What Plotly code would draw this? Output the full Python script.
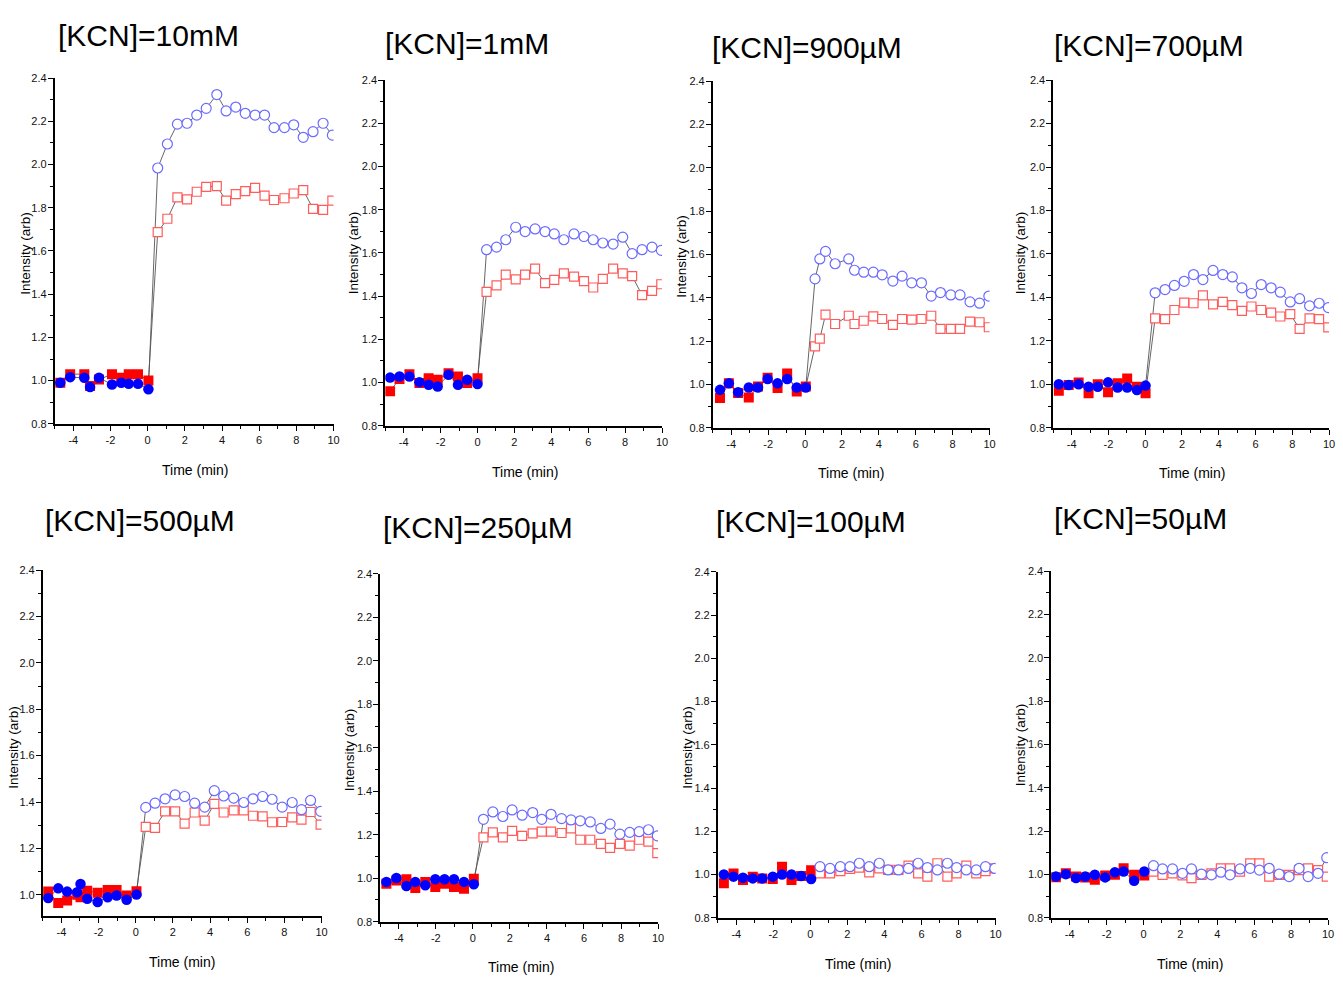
import plotly.graph_objects as go

W, H = 1343, 981

TITLES = ["[KCN]=10mM", "[KCN]=1mM", "[KCN]=900µM", "[KCN]=700µM",
          "[KCN]=500µM", "[KCN]=250µM", "[KCN]=100µM", "[KCN]=50µM"]
X_TITLE = "Time (min)"
Y_TITLE = "Intensity (arb)"
X_TICKS = [-4, -2, 0, 2, 4, 6, 8, 10]
X_TICK_LABELS = ["-4", "-2", "0", "2", "4", "6", "8", "10"]
Y_MIN = [0.8, 0.8, 0.8, 0.8, 0.91, 0.8, 0.8, 0.8]

# ---- [KCN]=10mM
T_PRE_10MM = [-4.70, -4.17, -3.41, -3.10, -2.62, -1.92, -1.42, -1.02, -0.52, 0.04]
BLUE_PRE_10MM = [0.99, 1.016, 1.013, 0.97, 1.013, 0.982, 0.99, 0.985, 0.985, 0.96]
RED_PRE_10MM = [0.99, 1.03, 1.03, 0.975, 1.005, 1.03, 1.013, 1.03, 1.03, 1.0]
T_POST_10MM = [0.54, 1.06, 1.60, 2.12, 2.64, 3.15, 3.72, 4.22, 4.74, 5.25, 5.78, 6.29, 6.80, 7.36, 7.86, 8.37, 8.90, 9.44, 9.94]
BLUE_POST_10MM = [1.984, 2.095, 2.187, 2.191, 2.229, 2.26, 2.324, 2.248, 2.266, 2.237, 2.229, 2.229, 2.171, 2.171, 2.184, 2.126, 2.152, 2.191, 2.136]
RED_POST_10MM = [1.687, 1.749, 1.848, 1.839, 1.874, 1.897, 1.9, 1.833, 1.863, 1.877, 1.892, 1.856, 1.836, 1.844, 1.866, 1.882, 1.795, 1.79, 1.833]

# ---- [KCN]=1mM
T_PRE_1MM = [-4.74, -4.23, -3.69, -3.15, -2.65, -2.16, -1.57, -1.06, -0.56, 0.0]
BLUE_PRE_1MM = [1.023, 1.028, 1.028, 1.002, 0.99, 0.982, 1.036, 0.99, 1.013, 0.993]
RED_PRE_1MM = [0.96, 1.017, 1.039, 0.998, 1.02, 1.013, 1.043, 1.028, 0.998, 1.02]
T_POST_1MM = [0.49, 1.03, 1.53, 2.07, 2.58, 3.12, 3.66, 4.16, 4.68, 5.23, 5.77, 6.27, 6.79, 7.35, 7.87, 8.38, 8.92, 9.46, 9.96]
BLUE_POST_1MM = [1.615, 1.627, 1.661, 1.719, 1.699, 1.711, 1.699, 1.688, 1.661, 1.688, 1.676, 1.661, 1.646, 1.641, 1.673, 1.597, 1.615, 1.627, 1.612]
RED_POST_1MM = [1.42, 1.45, 1.5, 1.478, 1.5, 1.527, 1.46, 1.475, 1.505, 1.49, 1.47, 1.44, 1.48, 1.527, 1.505, 1.493, 1.405, 1.424, 1.455]

# ---- [KCN]=900uM
T_PRE_900 = [-4.61, -4.13, -3.63, -3.05, -2.55, -2.03, -1.49, -0.97, -0.45, 0.04]
BLUE_PRE_900 = [0.975, 1.005, 0.964, 0.986, 0.986, 1.025, 1.005, 1.025, 0.986, 0.986]
RED_PRE_900 = [0.937, 1.005, 0.96, 0.94, 0.99, 1.031, 0.983, 1.051, 0.967, 0.99]
T_POST_900 = [0.54, 0.80, 1.11, 1.63, 2.37, 2.68, 3.18, 3.70, 4.18, 4.76, 5.26, 5.78, 6.31, 6.84, 7.34, 7.90, 8.40, 8.94, 9.46, 9.96]
BLUE_POST_900 = [1.487, 1.579, 1.614, 1.557, 1.579, 1.527, 1.518, 1.518, 1.506, 1.477, 1.5, 1.469, 1.469, 1.408, 1.424, 1.413, 1.413, 1.381, 1.375, 1.408]
RED_POST_900 = [1.176, 1.211, 1.322, 1.279, 1.317, 1.279, 1.294, 1.314, 1.302, 1.275, 1.302, 1.299, 1.302, 1.317, 1.256, 1.256, 1.256, 1.29, 1.287, 1.264]

# ---- [KCN]=700uM
T_PRE_700 = [-4.70, -4.16, -3.62, -3.08, -2.58, -2.02, -1.50, -0.98, -0.45, 0.02]
BLUE_PRE_700 = [1.0, 0.997, 1.0, 0.989, 0.989, 1.009, 0.985, 0.985, 0.974, 0.994]
RED_PRE_700 = [0.97, 0.997, 1.008, 0.959, 1.0, 0.964, 1.005, 1.027, 0.989, 0.959]
T_POST_700 = [0.54, 1.08, 1.59, 2.12, 2.63, 3.14, 3.69, 4.22, 4.74, 5.26, 5.78, 6.31, 6.85, 7.35, 7.89, 8.40, 8.94, 9.46, 9.96]
BLUE_POST_700 = [1.421, 1.436, 1.455, 1.474, 1.505, 1.482, 1.524, 1.505, 1.494, 1.444, 1.418, 1.459, 1.444, 1.424, 1.379, 1.394, 1.361, 1.373, 1.353]
RED_POST_700 = [1.303, 1.3, 1.342, 1.376, 1.373, 1.409, 1.368, 1.379, 1.364, 1.338, 1.358, 1.342, 1.33, 1.312, 1.323, 1.255, 1.303, 1.3, 1.262]

# ---- [KCN]=500uM
T_PRE_500 = [-4.71, -4.17, -3.69, -3.15, -2.97, -2.61, -2.05, -1.51, -1.03, -0.49, 0.04]
BLUE_PRE_500 = [0.986, 1.028, 1.014, 1.011, 1.047, 0.983, 0.969, 0.99, 0.997, 0.979, 1.001]
RED_PRE_500 = [1.014, 0.965, 0.976, 1.0, 0.99, 1.018, 1.009, 1.021, 1.021, 0.997, 1.016]
T_POST_500 = [0.54, 1.04, 1.58, 2.12, 2.63, 3.17, 3.71, 4.23, 4.73, 5.27, 5.81, 6.31, 6.83, 7.34, 7.88, 8.42, 8.92, 9.41, 9.95]
BLUE_POST_500 = [1.377, 1.395, 1.414, 1.431, 1.424, 1.395, 1.378, 1.449, 1.426, 1.417, 1.398, 1.414, 1.424, 1.412, 1.378, 1.398, 1.367, 1.407, 1.36]
RED_POST_500 = [1.293, 1.289, 1.36, 1.36, 1.307, 1.355, 1.32, 1.392, 1.355, 1.364, 1.364, 1.341, 1.338, 1.313, 1.314, 1.334, 1.324, 1.357, 1.303]

# ---- [KCN]=250uM
T_PRE_250 = [-4.67, -4.13, -3.59, -3.11, -2.57, -2.03, -1.53, -1.02, -0.48, 0.05]
BLUE_PRE_250 = [0.983, 1.001, 0.964, 0.983, 0.967, 0.995, 0.995, 0.995, 0.983, 0.972]
RED_PRE_250 = [0.975, 0.99, 0.995, 0.955, 0.983, 0.96, 0.975, 0.96, 0.952, 0.998]
T_POST_250 = [0.57, 1.08, 1.62, 2.12, 2.66, 3.23, 3.72, 4.22, 4.79, 5.30, 5.80, 6.34, 6.91, 7.41, 7.94, 8.47, 8.98, 9.48, 9.96]
BLUE_POST_250 = [1.271, 1.305, 1.284, 1.314, 1.29, 1.302, 1.271, 1.294, 1.274, 1.268, 1.264, 1.259, 1.229, 1.249, 1.203, 1.211, 1.214, 1.223, 1.195]
RED_POST_250 = [1.188, 1.211, 1.188, 1.218, 1.195, 1.206, 1.214, 1.214, 1.208, 1.229, 1.177, 1.177, 1.158, 1.14, 1.158, 1.15, 1.177, 1.168, 1.115]

# ---- [KCN]=100uM
T_PRE_100 = [-4.67, -4.15, -3.64, -3.11, -2.60, -2.03, -1.53, -1.02, -0.50, 0.04]
BLUE_PRE_100 = [1.0, 0.99, 0.985, 0.982, 0.982, 0.99, 1.0, 1.0, 0.993, 0.979]
RED_PRE_100 = [0.959, 1.005, 0.974, 0.99, 0.982, 0.979, 1.036, 0.974, 0.993, 1.02]
T_POST_100 = [0.52, 1.06, 1.62, 2.14, 2.64, 3.18, 3.72, 4.20, 4.76, 5.30, 5.82, 6.32, 6.86, 7.40, 7.90, 8.42, 8.96, 9.46, 9.96]
BLUE_POST_100 = [1.036, 1.028, 1.036, 1.036, 1.052, 1.036, 1.052, 1.021, 1.021, 1.028, 1.052, 1.032, 1.021, 1.052, 1.032, 1.021, 1.021, 1.036, 1.028]
RED_POST_100 = [1.005, 1.005, 1.016, 1.026, 1.032, 1.01, 1.028, 1.021, 1.021, 1.041, 1.005, 0.99, 1.052, 0.99, 1.005, 1.041, 1.005, 1.016, 1.028]

# ---- [KCN]=50uM
T_PRE_50 = [-4.75, -4.21, -3.66, -3.16, -2.64, -2.08, -1.55, -1.08, -0.51, 0.04]
BLUE_PRE_50 = [0.99, 1.001, 0.983, 0.99, 0.998, 0.986, 1.01, 1.013, 0.97, 1.013]
RED_PRE_50 = [0.987, 1.005, 0.99, 0.986, 0.975, 0.995, 0.998, 1.028, 0.998, 0.995]
T_POST_50 = [0.54, 1.03, 1.57, 2.11, 2.60, 3.14, 3.68, 4.19, 4.69, 5.23, 5.78, 6.28, 6.81, 7.35, 7.89, 8.43, 8.92, 9.46, 9.93]
BLUE_POST_50 = [1.04, 1.025, 1.025, 1.005, 1.025, 1.001, 0.998, 1.01, 0.998, 1.025, 1.028, 1.02, 1.028, 1.001, 0.99, 1.028, 0.99, 1.005, 1.077]
RED_POST_50 = [1.013, 0.998, 1.005, 0.995, 0.983, 0.998, 1.005, 1.028, 1.028, 1.013, 1.051, 1.051, 0.99, 0.998, 0.998, 1.02, 1.028, 1.02, 0.99]

PANELS = [
    (T_PRE_10MM, T_POST_10MM, BLUE_PRE_10MM, BLUE_POST_10MM, RED_PRE_10MM, RED_POST_10MM),
    (T_PRE_1MM, T_POST_1MM, BLUE_PRE_1MM, BLUE_POST_1MM, RED_PRE_1MM, RED_POST_1MM),
    (T_PRE_900, T_POST_900, BLUE_PRE_900, BLUE_POST_900, RED_PRE_900, RED_POST_900),
    (T_PRE_700, T_POST_700, BLUE_PRE_700, BLUE_POST_700, RED_PRE_700, RED_POST_700),
    (T_PRE_500, T_POST_500, BLUE_PRE_500, BLUE_POST_500, RED_PRE_500, RED_POST_500),
    (T_PRE_250, T_POST_250, BLUE_PRE_250, BLUE_POST_250, RED_PRE_250, RED_POST_250),
    (T_PRE_100, T_POST_100, BLUE_PRE_100, BLUE_POST_100, RED_PRE_100, RED_POST_100),
    (T_PRE_50, T_POST_50, BLUE_PRE_50, BLUE_POST_50, RED_PRE_50, RED_POST_50),
]

# ---- layout geometry (pixels)
PLOT_BOX = [(55, 335, 73, 423), (387, 665, 75, 425), (716, 994, 76, 427), (1058, 1335, 75, 427),
            (43, 323, 571, 921), (382, 661, 575, 927), (721, 1000, 573, 923), (1056, 1334, 572, 923)]
TITLE_POS = [(56, 30), (385, 38), (713, 42), (1057, 40), (43, 521), (383, 528), (717, 522), (1057, 519)]
XT_POS = [(196, 470), (527, 472), (855, 473), (1197, 473), (183, 968), (523, 973), (862, 970), (1195, 970)]
YT_POS = [(26, 250), (356, 250), (685, 253), (1026, 250), (14, 750), (351, 753), (691, 750), (1025, 748)]

SANS = "Liberation Sans, Arial, sans-serif"

LINE_C = "#555555"
BLUE = "#0000ff"
BLUE_OPEN = "#6b6bff"
RED = "#ff0000"
RED_OPEN = "#ff5c5c"

fig = go.Figure()
layout = dict(width=W, height=H, margin=dict(l=0, r=0, t=0, b=0),
              paper_bgcolor="white", plot_bgcolor="white", showlegend=False)
annotations = []


def px(x):
    return x / W


def py(y):
    return 1 - y / H


for i, (tpre, tpost, bpre, bpost, rpre, rpost) in enumerate(PANELS):
    n = i + 1
    xa, ya = f"x{n}", f"y{n}"
    # connecting lines
    for pre, post in ((rpre, rpost), (bpre, bpost)):
        fig.add_trace(go.Scatter(x=tpre + tpost, y=pre + post, mode="lines",
                                 line=dict(color=LINE_C, width=0.9),
                                 xaxis=xa, yaxis=ya, hoverinfo="skip"))
    # red squares
    fig.add_trace(go.Scatter(x=tpre, y=rpre, mode="markers", xaxis=xa, yaxis=ya,
                             marker=dict(symbol="square", size=10, color=RED, line=dict(width=0))))
    fig.add_trace(go.Scatter(x=tpost, y=rpost, mode="markers", xaxis=xa, yaxis=ya,
                             marker=dict(symbol="square", size=9, color="white",
                                         line=dict(width=1.2, color=RED_OPEN))))
    # blue circles
    fig.add_trace(go.Scatter(x=tpre, y=bpre, mode="markers", xaxis=xa, yaxis=ya,
                             marker=dict(symbol="circle", size=10.5, color=BLUE, line=dict(width=0))))
    fig.add_trace(go.Scatter(x=tpost, y=bpost, mode="markers", xaxis=xa, yaxis=ya,
                             marker=dict(symbol="circle", size=10, color="white",
                                         line=dict(width=1.2, color=BLUE_OPEN))))

    x0, x1, y0, y1 = PLOT_BOX[i]
    ymin = Y_MIN[i]
    k = "" if n == 1 else str(n)
    layout[f"xaxis{k}"] = dict(
        domain=[px(x0), px(x1)], range=[-5, 10], anchor=ya,
        tickmode="array", tickvals=X_TICKS, ticktext=X_TICK_LABELS,
        ticks="outside", ticklen=5, tickwidth=1.3, tickcolor="black",
        minor=dict(ticks="outside", ticklen=3, tickwidth=1.2, dtick=1, tick0=-5, tickcolor="black"),
        showline=True, linewidth=1.8, linecolor="black", showgrid=False, zeroline=False,
        tickfont=dict(family=SANS, size=11, color="#111111"), fixedrange=True)
    layout[f"yaxis{k}"] = dict(
        domain=[py(y1), py(y0)], range=[ymin, 2.4], anchor=xa,
        tick0=0.8, dtick=0.2, tickformat=".1f", ticks="outside", ticklen=5, tickwidth=1.3,
        tickcolor="black", ticklabelstandoff=-1,
        minor=dict(ticks="outside", ticklen=3, tickwidth=1.2, dtick=0.1, tick0=0.8, tickcolor="black"),
        showline=True, linewidth=1.8, linecolor="black", showgrid=False, zeroline=False,
        tickfont=dict(family=SANS, size=11, color="#111111"), fixedrange=True)
    # top and right frame axes (inside ticks, no labels)
    layout[f"xaxis{n + 8}"] = dict(
        overlaying=xa, side="top", anchor=ya, range=[-5, 10],
        tick0=-3.5, dtick=1.5, ticks="inside", ticklen=5, tickwidth=1.2, tickcolor="black",
        showticklabels=False, showline=True, linewidth=1.6, linecolor="black",
        showgrid=False, zeroline=False, fixedrange=True)
    layout[f"yaxis{n + 8}"] = dict(
        overlaying=ya, side="right", anchor=xa, range=[ymin, 2.4],
        tick0=0.955, dtick=0.16, ticks="inside", ticklen=4, tickwidth=1.2, tickcolor="black",
        showticklabels=False, showline=True, linewidth=1.6, linecolor="black",
        showgrid=False, zeroline=False, fixedrange=True)

    tx, ty = TITLE_POS[i]
    annotations.append(dict(text=TITLES[i], x=px(tx), y=py(ty), xref="paper", yref="paper",
                            xanchor="left", yanchor="middle", showarrow=False,
                            font=dict(family=SANS, size=30, color="black")))
    ax_, ay_ = XT_POS[i]
    annotations.append(dict(text=X_TITLE, x=px(ax_), y=py(ay_), xref="paper", yref="paper",
                            xanchor="center", yanchor="middle", showarrow=False,
                            font=dict(family=SANS, size=14, color="black")))
    bx, by = YT_POS[i]
    annotations.append(dict(text=Y_TITLE, x=px(bx), y=py(by), xref="paper", yref="paper",
                            xanchor="center", yanchor="middle", showarrow=False, textangle=-90,
                            font=dict(family=SANS, size=13.5, color="black")))

layout["annotations"] = annotations
fig.update_layout(**layout)
fig.write_html("out.html")
